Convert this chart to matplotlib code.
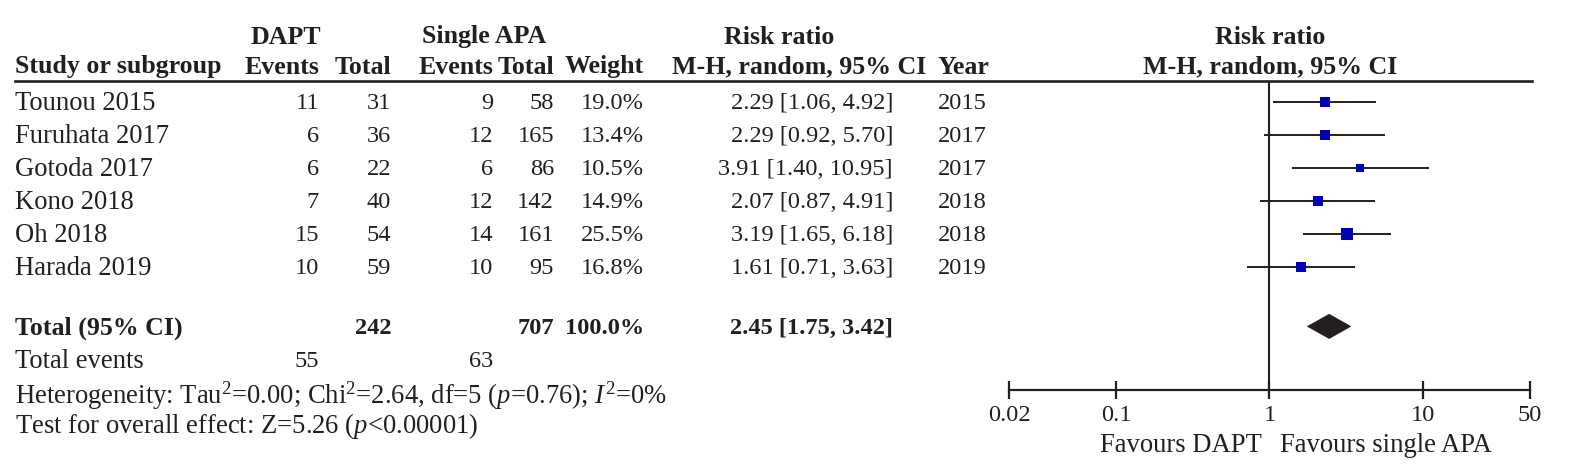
import matplotlib.pyplot as plt
from matplotlib import transforms
from matplotlib.lines import Line2D
import numpy as np

plt.rcParams['font.family'] = ['Liberation Serif', 'DejaVu Serif']
plt.rcParams['mathtext.fontset'] = 'custom'
plt.rcParams['mathtext.rm'] = 'Liberation Serif'
plt.rcParams['mathtext.it'] = 'Liberation Serif:italic'

# data
studies = ["Tounou 2015", "Furuhata 2017", "Gotoda 2017", "Kono 2018", "Oh 2018", "Harada 2019"]
dapt_events = [11, 6, 6, 7, 15, 10]
dapt_total = [31, 36, 22, 40, 54, 59]
single_events = [9, 12, 6, 12, 14, 10]
single_total = [58, 165, 86, 142, 161, 95]
weights = [19.0, 13.4, 10.5, 14.9, 25.5, 16.8]
rr = [2.29, 2.29, 3.91, 2.07, 3.19, 1.61]
ci_low = [1.06, 0.92, 1.40, 0.87, 1.65, 0.71]
ci_high = [4.92, 5.70, 10.95, 4.91, 6.18, 3.63]
years = [2015, 2017, 2017, 2018, 2018, 2019]

total_rr, total_low, total_high = 2.45, 1.75, 3.42
total_dapt, total_single = 242, 707
total_weight = 100.0
events_dapt, events_single = 55, 63
axis_ticks = [0.02, 0.1, 1, 10, 50]

W, H = 1586, 471
ink = '#231F20'
blue = '#0000B4'
fs = 19.2    # words
fh = 18.6    # bold headers
fn = 17.6    # numbers

fig = plt.figure(figsize=(W / 100, H / 100), dpi=100)

# text layer in pixel coords
tx = fig.add_axes([0, 0, 1, 1])
tx.set_xlim(0, W)
tx.set_ylim(H, 0)
tx.axis('off')

# forest plot axes (x=0.02 at px 1009, x=50 at px 1530)
top, bottom = 81, 390
row0, step = 102, 33
fx = fig.add_axes([1009 / W, 1 - bottom / H, (1530 - 1009) / W, (bottom - top) / H])
fx.set_xscale('log')
fx.set_xlim(0.02, 50)
fx.set_ylim((bottom - row0) / step, (top - row0) / step)
for s in ['top', 'left', 'right']:
    fx.spines[s].set_visible(False)
fx.spines['bottom'].set_linewidth(1.6)
fx.spines['bottom'].set_color(ink)
fx.set_yticks([])
fx.set_xticks(axis_ticks)
fx.set_xticklabels(['0.02', '0.1', '1', '10', '50'])
fx.minorticks_off()
fx.tick_params(axis='x', direction='inout', length=13, width=1.6, color=ink,
               labelsize=fn, labelcolor=ink, pad=4)
fx.patch.set_alpha(0)

fx.axvline(1, color=ink, lw=1.5)

rows = np.arange(len(studies))
for i in rows:
    fx.plot([ci_low[i], ci_high[i]], [i, i], color=ink, lw=1.4, solid_capstyle='butt')
    fx.plot(rr[i], i, marker='s', color=blue, ms=1.8 * np.sqrt(weights[i]), mew=0)

total_row = len(studies) + 0.8
dh = 0.38
fx.fill([total_low, total_rr, total_high, total_rr],
        [total_row, total_row - dh, total_row, total_row + dh], color=ink, lw=0)

# blended transform: x in pixels, y in row units
tr = transforms.blended_transform_factory(tx.transData, fx.transData)
ty = 0.05  # small nudge so text centres sit on the marks

# header
tx.add_line(Line2D([15, 1532], [81, 81], color=ink, lw=1.9))
hd = dict(fontsize=fh, color=ink, fontweight='bold', va='center')
tx.text(286, 37, "DAPT", ha='center', **hd)
tx.text(484, 37, "Single APA", ha='center', **hd)
tx.text(779, 37, "Risk ratio", ha='center', **hd)
tx.text(1270, 37, "Risk ratio", ha='center', **hd)
tx.text(15, 67, "Study or subgroup", ha='left', **hd)
tx.text(319, 67, "Events", ha='right', **hd)
tx.text(391, 67, "Total", ha='right', **hd)
tx.text(493, 67, "Events", ha='right', **hd)
tx.text(554, 67, "Total", ha='right', **hd)
tx.text(644, 67, "Weight", ha='right', **hd)
tx.text(799, 67, "M-H, random, 95% CI", ha='center', **hd)
tx.text(938, 67, "Year", ha='left', **hd)
tx.text(1270, 67, "M-H, random, 95% CI", ha='center', **hd)

body = dict(color=ink, va='center', transform=tr)
for i in rows:
    y = i + ty
    tx.text(15, y, studies[i], ha='left', fontsize=fs, **body)
    tx.text(319, y, str(dapt_events[i]), ha='right', fontsize=fn, **body)
    tx.text(391, y, str(dapt_total[i]), ha='right', fontsize=fn, **body)
    tx.text(493, y, str(single_events[i]), ha='right', fontsize=fn, **body)
    tx.text(554, y, str(single_total[i]), ha='right', fontsize=fn, **body)
    tx.text(644, y, f"{weights[i]:.1f}%", ha='right', fontsize=fn, **body)
    tx.text(893, y, f"{rr[i]:.2f} [{ci_low[i]:.2f}, {ci_high[i]:.2f}]", ha='right',
            fontsize=fn, **body)
    tx.text(938, y, str(years[i]), ha='left', fontsize=fn, **body)

yt = total_row + ty
tx.text(15, yt, "Total (95% CI)", ha='left', fontweight='bold', fontsize=fh, **body)
tx.text(391, yt, str(total_dapt), ha='right', fontweight='bold', fontsize=fn, **body)
tx.text(554, yt, str(total_single), ha='right', fontweight='bold', fontsize=fn, **body)
tx.text(644, yt, f"{total_weight:.1f}%", ha='right', fontweight='bold', fontsize=fn, **body)
tx.text(893, yt, f"{total_rr:.2f} [{total_low:.2f}, {total_high:.2f}]",
        ha='right', fontweight='bold', fontsize=fn, **body)

tx.text(15, yt + 1, "Total events", ha='left', fontsize=fs, **body)
tx.text(319, yt + 1, str(events_dapt), ha='right', fontsize=fn, **body)
tx.text(493, yt + 1, str(events_single), ha='right', fontsize=fn, **body)

tx.text(15, yt + 2.05,
        r"Heterogeneity: Tau$^2$=0.00; Chi$^2$=2.64, df=5 ($p$=0.76); $I^2$=0%",
        ha='left', fontsize=fs, **body)
tx.text(15, yt + 2.98, r"Test for overall effect: Z=5.26 ($p$<0.00001)",
        ha='left', fontsize=fs, **body)

tx.text(1262, 446, "Favours DAPT", ha='right', va='center', fontsize=fs, color=ink)
tx.text(1280, 446, "Favours single APA", ha='left', va='center', fontsize=fs, color=ink)

fig.savefig('out.png', dpi=100)
